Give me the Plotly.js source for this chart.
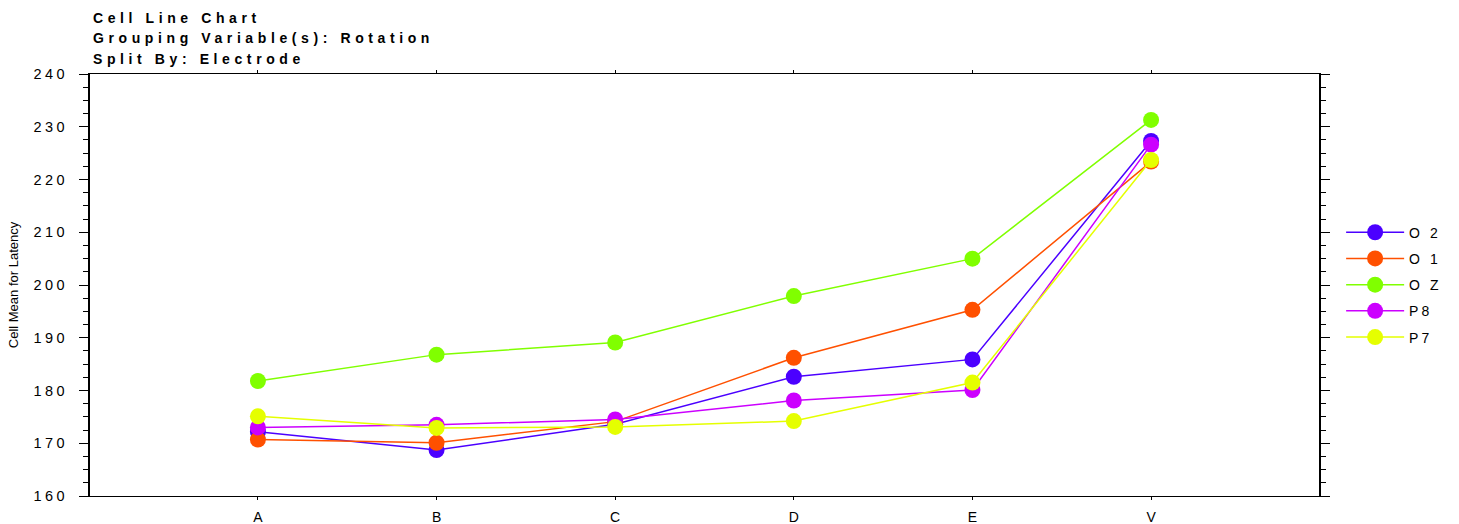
<!DOCTYPE html>
<html>
<head>
<meta charset="utf-8">
<script src="https://cdn.plot.ly/plotly-3.0.1.min.js"></script>
<style>
  html, body { margin: 0; padding: 0; background: #fff; }
  #chart { width: 1459px; height: 524px; }
  .annotation-text { letter-spacing: 4.6px; }
  .ytick text { letter-spacing: 3.5px; }
  .legendtext { letter-spacing: 3px; }
</style>
</head>
<body>
<div id="chart"></div>
<script>
const categories = ["A", "B", "C", "D", "E", "V"];
const seriesNames = ["O 2", "O 1", "O Z", "P8", "P7"];
const O2 = [172.2, 168.7, 173.6, 182.6, 185.9, 227.3];
const O1 = [170.7, 170.1, 174.1, 186.2, 195.3, 223.4];
const OZ = [181.8, 186.8, 189.1, 197.9, 205.0, 231.3];
const P8 = [173.0, 173.5, 174.5, 178.1, 180.1, 226.6];
const P7 = [175.1, 172.9, 173.1, 174.2, 181.5, 223.7];
const seriesValues = [O2, O1, OZ, P8, P7];
const seriesColors = ["#4B00FF", "#FF5000", "#80FF00", "#CC00FF", "#E5FF00"];
const yTicks = [160, 170, 180, 190, 200, 210, 220, 230, 240];
const titleLines = ["Cell Line Chart", "Grouping Variable(s): Rotation", "Split By: Electrode"];

const traces = seriesValues.map((vals, i) => ({
  type: "scatter",
  mode: "lines+markers",
  name: seriesNames[i],
  x: categories,
  y: vals,
  legendgroup: "g" + i,
  line: { color: seriesColors[i], width: 1.5 },
  marker: { color: seriesColors[i], size: 16, symbol: "circle", line: { width: 0 } }
}));

const titleY = [17, 37, 58];
const annotations = titleLines.map((t, i) => ({
  text: "<b>" + t + "</b>",
  xref: "paper", yref: "paper",
  x: 0, xanchor: "left", xshift: 1,
  y: 1 + (73 - titleY[i]) / 423, yanchor: "middle",
  showarrow: false,
  font: { family: "Liberation Sans, Arial, sans-serif", size: 14, color: "#000" }
}));

const layout = {
  width: 1459, height: 524,
  margin: { l: 90, r: 137, t: 74, b: 28 },
  paper_bgcolor: "#fff", plot_bgcolor: "#fff",
  font: { family: "Liberation Sans, Arial, sans-serif", size: 14, color: "#000" },
  showlegend: true,
  legend: {
    x: 1.018, xanchor: "left", y: 0.662, yanchor: "top",
    tracegroupgap: 5, itemwidth: 58,
    font: { size: 14, color: "#000" },
    bgcolor: "rgba(0,0,0,0)"
  },
  xaxis: {
    type: "category",
    range: [-0.94, 5.94],
    showline: true, linecolor: "#000", linewidth: 1,
    mirror: "allticks",
    ticks: "outside", ticklen: 3, tickcolor: "#000", tickwidth: 1,
    ticklabelstandoff: 5,
    showgrid: false, zeroline: false,
    tickfont: { size: 14 }
  },
  yaxis: {
    range: [160, 240],
    tickvals: yTicks,
    showline: true, linecolor: "#000", linewidth: 2,
    mirror: "allticks",
    ticks: "outside", ticklen: 9, tickcolor: "#000", tickwidth: 1,
    ticklabelstandoff: 8,
    minor: { dtick: 2.5, ticks: "outside", ticklen: 5, tickcolor: "#000", tickwidth: 1 },
    showgrid: false, zeroline: false,
    tickfont: { size: 14.5 },
    title: { text: "Cell Mean for Latency", font: { size: 13 }, standoff: 12 }
  },
  annotations: annotations
};

Plotly.newPlot("chart", traces, layout, { displayModeBar: false, staticPlot: true });
</script>
</body>
</html>
